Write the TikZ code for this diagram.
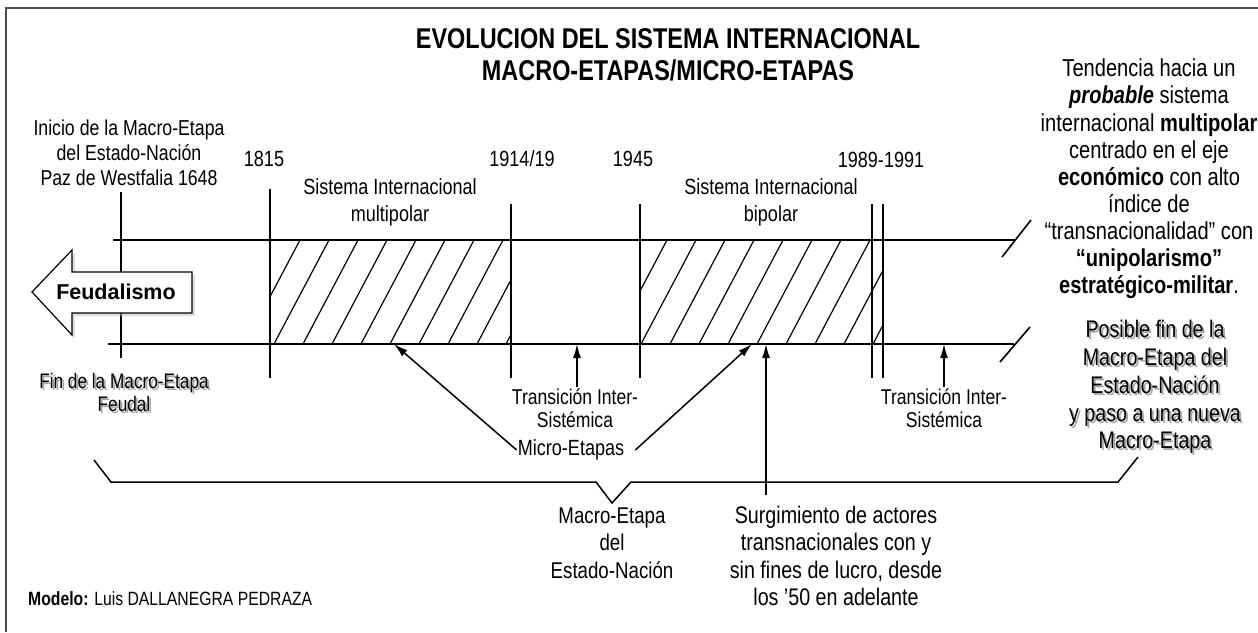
\documentclass[tikz,border=0pt]{standalone}
\usepackage{fontspec}
\setmainfont{Liberation Sans}[FakeStretch=0.82]
\newfontfamily\wideface{Liberation Sans}
\usetikzlibrary{arrows.meta,shadows}
\newcommand{\Fsz}[2]{\fontsize{#1}{#2}\selectfont}

\begin{document}
\begin{tikzpicture}[x=1pt, y=-1pt, >={Latex[length=14pt,width=8pt]},
    lbl/.style={align=center, inner sep=1pt, font=\Fsz{22}{27}},
    gone/.style={align=center, inner sep=1pt, font=\Fsz{21}{23}, text=black!35},
    axis/.style={line width=1.6pt},
    hatch/.style={line width=1.2pt}]

    \useasboundingbox (0,0) rectangle (1258,632);
    \draw[line width=2pt, black!70] (6,632) -- (6,8) -- (1258,8);

    % title
    \draw(668,55) node[font=\Fsz{28.6}{32}\bfseries, align=center] (title)
        {EVOLUCION DEL SISTEMA INTERNACIONAL\\MACRO-ETAPAS/MICRO-ETAPAS};

    % time line
    \draw[axis] (113,240) -- (1016,240);
    \draw[axis] (108,344) -- (1014,344);
    \draw[axis] (1002,257) -- (1031,220);
    \draw[axis] (1000,362) -- (1030,327);

    \begin{scope}
        \clip (270,240) rectangle (511,344);
        \foreach \x in {271,300,...,568} \draw[hatch] (\x,240) -- (\x-55,344);
    \end{scope}
    \begin{scope}
        \clip (640,240) rectangle (883,344);
        \foreach \x in {638,667,...,945} \draw[hatch] (\x,240) -- (\x-55,344);
    \end{scope}

    \draw[axis] (121,192) -- (121,358);
    \draw[axis] (270,189) -- (270,378);
    \draw[axis] (511,204) -- (511,378);
    \draw[axis] (640,204) -- (640,378);
    \draw[axis] (872,204) -- (872,378);
    \draw[axis] (883,204) -- (883,378);

    \draw(264,159) node[lbl] (y1815) {1815};
    \draw(522,159) node[lbl] (y1914) {1914/19};
    \draw(633,159) node[lbl] (y1945) {1945};
    \draw(881,160) node[lbl] (y1989) {1989-1991};

    \draw(129,153) node[lbl, font=\Fsz{21.6}{25}] (inicio)
        {Inicio de la Macro-Etapa\\del Estado-Nación\\Paz de Westfalia 1648};
    \draw(390,202) node[lbl] (multi) {Sistema Internacional\\multipolar};
    \draw(771,202) node[lbl] (bipol) {Sistema Internacional\\bipolar};

    % feudalismo arrow
    \draw[line width=1.2pt, fill=white,
        drop shadow={shadow xshift=3pt, shadow yshift=-3pt, fill=black!25}]
        (192,272) -- (72,272) -- (72,250) -- (32,292) -- (72,335) -- (72,313)
        -- (192,313) -- cycle;
    \draw(116,292) node[font=\wideface\Fsz{21.5}{26}\bfseries] (feud) {Feudalismo};

    % shadowed labels
    \draw(126,394) node[gone] {Fin de la Macro-Etapa\\Feudal};
    \draw(124,392) node[gone, text=black] (finfeud) {Fin de la Macro-Etapa\\Feudal};
    \draw(1157,389) node[gone, font=\Fsz{24}{27.8}]
        {Posible fin de la\\Macro-Etapa del\\Estado-Nación\\y paso a una nueva\\Macro-Etapa};
    \draw(1155,387) node[gone, font=\Fsz{24}{27.8}, text=black] (posible)
        {Posible fin de la\\Macro-Etapa del\\Estado-Nación\\y paso a una nueva\\Macro-Etapa};

    \draw(1149,179) node[lbl, font=\Fsz{24.5}{27.1}] (tendencia)
        {Tendencia hacia un\\\textbf{\textit{probable}} sistema\\internacional \textbf{multipolar}\\
         centrado en el eje\\\textbf{económico} con alto\\índice de\\“transnacionalidad” con\\
         \textbf{“unipolarismo”}\\\textbf{estratégico-militar}.};

    % arrows to the line
    \coordinate (m1) at (394,344);
    \coordinate (m2) at (752,344);
    \coordinate (t1) at (577,344);
    \coordinate (t2) at (944,344);
    \coordinate (sg) at (766,344);

    \draw(575,408) node[lbl, font=\Fsz{21.4}{23}] (trans1) {Transición Inter-\\Sistémica};
    \draw(944,408) node[lbl, font=\Fsz{21.4}{23}] (trans2) {Transición Inter-\\Sistémica};
    \draw(571,450) node[lbl] (micro) {Micro-Etapas};
    \draw[->, line width=1.5pt] (trans1.north -| t1) -- (t1);
    \draw[->, line width=1.5pt] (trans2.north -| t2) -- (t2);
    \draw[->, line width=1.5pt] (micro.west) -- (m1);
    \draw[->, line width=1.5pt] ([xshift=10pt]micro.east) -- (m2);

    % macro-etapa brace
    \draw[line width=1.5pt] (94,460) -- (111,482) -- (596,482) -- (612,503)
        -- (631,482) -- (1118,482) -- (1138,457);
    \draw(612,543) node[lbl, font=\Fsz{22.8}{27.5}] (macro) {Macro-Etapa\\del\\Estado-Nación};

    \draw(836,556) node[lbl, font=\Fsz{24}{27.3}] (surg)
        {Surgimiento de actores\\transnacionales con y\\sin fines de lucro, desde\\los ’50 en adelante};
    \draw[->, line width=1.5pt] ([yshift=10pt]surg.north -| sg) -- (sg);

    \draw(28,599) node[anchor=west, inner sep=0pt, font=\Fsz{19.2}{22}] (modelo)
        {\textbf{Modelo:} Luis DALLANEGRA PEDRAZA};

\end{tikzpicture}
\end{document}
